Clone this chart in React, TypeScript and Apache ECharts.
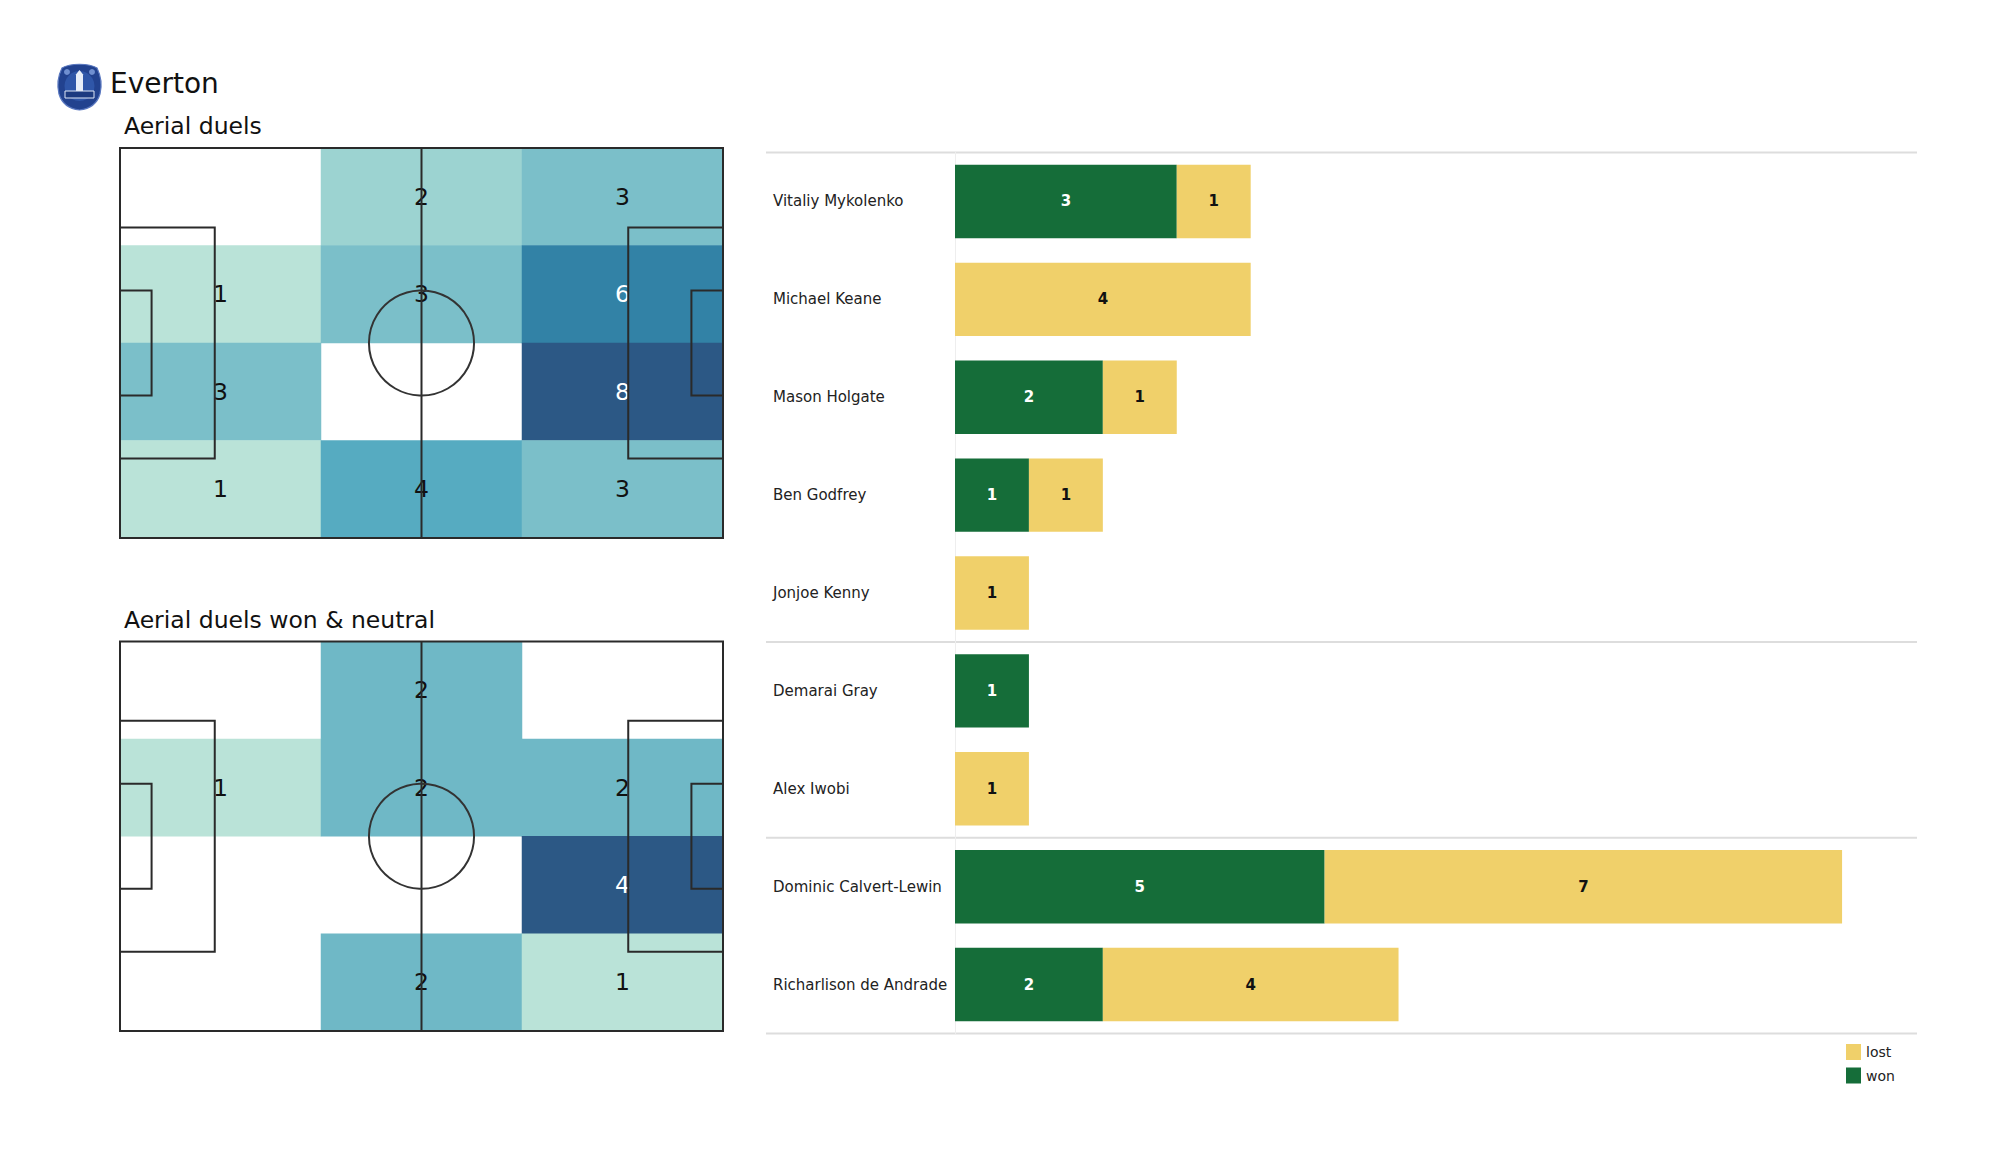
import React, { useEffect, useRef } from "react";
import * as echarts from "echarts";

// ---------- data ----------
const players = [
  "Vitaliy Mykolenko",
  "Michael Keane",
  "Mason Holgate",
  "Ben Godfrey",
  "Jonjoe Kenny",
  "Demarai Gray",
  "Alex Iwobi",
  "Dominic Calvert-Lewin",
  "Richarlison de Andrade",
];
const wonValues = [3, 0, 2, 1, 0, 1, 0, 5, 2];
const lostValues = [1, 4, 1, 1, 1, 0, 1, 7, 4];
const groupBreaks = [0, 5, 7, 9];

const zoneColumns = ["left", "centre", "right"];
const zoneRows = ["r1", "r2", "r3", "r4"];
// rows top -> bottom, columns left -> right
const aerialDuels = [
  [0, 2, 3],
  [1, 3, 6],
  [3, 0, 8],
  [1, 4, 3],
];
const aerialDuelsWonNeutral = [
  [0, 2, 0],
  [1, 2, 2],
  [0, 0, 4],
  [0, 2, 1],
];

const heatColors = ["#bae3d8", "#9cd3d1", "#7bbfc9", "#56abc1", "#4397b6", "#3282a6", "#2f6d95", "#2c5885"];
const FONT = '"DejaVu Sans", sans-serif';
const GREEN = "#156d39";
const YELLOW = "#f0d06a";

const crestPath =
  "M6 6 C 14 1 33 1 41 6 C 45 14 46 24 44 32 C 41 42 33 47 23.5 48 C 14 47 6 42 3 32 C 1 24 2 14 6 6 Z";

let crestRegistered = false;

function heatData(matrix: number[][]) {
  const max = Math.max(...matrix.flat());
  const out: any[] = [];
  matrix.forEach((row, r) =>
    row.forEach((v, c) => {
      if (v > 0) {
        const t = max > 1 ? (v - 1) / (max - 1) : 0;
        out.push({ value: [c, r, v], label: { color: t > 0.6 ? "#ffffff" : "#111111" } });
      }
    })
  );
  return { data: out, max };
}

function pitchRender(params: any, api: any) {
  const stroke = "#2a2a2a";
  const lw = 2;
  const rect = (x0: number, y0: number, x1: number, y1: number) => {
    const a = api.coord([x0, y0]);
    const b = api.coord([x1, y1]);
    return {
      type: "rect",
      shape: {
        x: Math.min(a[0], b[0]),
        y: Math.min(a[1], b[1]),
        width: Math.abs(b[0] - a[0]),
        height: Math.abs(b[1] - a[1]),
      },
      style: { fill: "none", stroke, lineWidth: lw },
    };
  };
  const h0 = api.coord([52.5, 0]);
  const h1 = api.coord([52.5, 68]);
  const c = api.coord([52.5, 34]);
  const r = api.size([9.15, 0])[0];
  return {
    type: "group",
    children: [
      rect(0, 13.84, 16.5, 54.16),
      rect(88.5, 13.84, 105, 54.16),
      rect(0, 24.84, 5.5, 43.16),
      rect(99.5, 24.84, 105, 43.16),
      {
        type: "line",
        shape: { x1: h0[0], y1: h0[1], x2: h1[0], y2: h1[1] },
        style: { stroke, lineWidth: lw },
      },
      {
        type: "circle",
        shape: { cx: c[0], cy: c[1], r },
        style: { fill: "none", stroke: "#333", lineWidth: lw },
      },
      rect(0, 0, 105, 68),
    ],
  };
}

export default function App() {
  const ref = useRef<HTMLDivElement>(null);

  useEffect(() => {
    if (!ref.current) return;
    if (!crestRegistered) {
      echarts.graphic.registerShape("crest", echarts.graphic.extendPath(crestPath, {}) as any);
      crestRegistered = true;
    }
    const chart = echarts.init(ref.current, undefined, { renderer: "svg" });

    const h1 = heatData(aerialDuels);
    const h2 = heatData(aerialDuelsWonNeutral);

    const pitchGrids = [
      { left: 120, top: 148, width: 603, height: 390 },
      { left: 120, top: 641.5, width: 603, height: 389.5 },
    ];

    const grids: any[] = [
      pitchGrids[0],
      pitchGrids[0],
      pitchGrids[1],
      pitchGrids[1],
      { left: 955, top: 152.5, width: 961, height: 881 },
      { left: 766, top: 152.5, width: 1151, height: 881 },
    ];

    const catX = (i: number) => ({ gridIndex: i, type: "category", data: zoneColumns, show: false });
    const catY = (i: number) => ({ gridIndex: i, type: "category", data: zoneRows, inverse: true, show: false });
    const pitchX = (i: number) => ({ gridIndex: i, type: "value", min: 0, max: 105, show: false });
    const pitchY = (i: number) => ({ gridIndex: i, type: "value", min: 0, max: 68, show: false });

    const heatSeries = (idx: number, d: any) => ({
      type: "heatmap",
      xAxisIndex: idx,
      yAxisIndex: idx,
      data: d.data,
      z: 1,
      label: {
        show: true,
        fontFamily: FONT,
        fontSize: 23.5,
        formatter: (p: any) => String(p.value[2]),
      },
      itemStyle: { borderWidth: 0 },
      emphasis: { disabled: true },
    });

    const option: any = {
      animation: false,
      backgroundColor: "#ffffff",
      textStyle: { fontFamily: FONT },
      grid: grids,
      xAxis: [
        catX(0),
        pitchX(1),
        catX(2),
        pitchX(3),
        { gridIndex: 4, type: "value", min: 0, max: 13, show: false },
        { gridIndex: 5, type: "value", min: 0, max: 1, show: false },
      ],
      yAxis: [
        catY(0),
        pitchY(1),
        catY(2),
        pitchY(3),
        {
          gridIndex: 4,
          type: "category",
          data: players,
          inverse: true,
          axisLine: { show: true, lineStyle: { color: "#eeeeee", width: 1 } },
          axisTick: { show: false },
          axisLabel: {
            align: "left",
            margin: 182,
            fontFamily: FONT,
            fontSize: 15,
            color: "#222222",
          },
        },
        { gridIndex: 5, type: "value", min: 0, max: 9, inverse: true, show: false },
      ],
      visualMap: [
        { show: false, seriesIndex: 0, dimension: 2, min: 1, max: h1.max, inRange: { color: heatColors } },
        { show: false, seriesIndex: 2, dimension: 2, min: 1, max: h2.max, inRange: { color: heatColors } },
      ],
      legend: {
        data: ["lost", "won"],
        orient: "vertical",
        left: 1841,
        top: 1039,
        itemWidth: 15,
        itemHeight: 16,
        itemGap: 7.5,
        icon: "rect",
        selectedMode: false,
        textStyle: { fontFamily: FONT, fontSize: 14, color: "#222222" },
      },
      series: [
        heatSeries(0, h1),
        {
          type: "custom",
          xAxisIndex: 1,
          yAxisIndex: 1,
          data: [[0, 0]],
          z: 5,
          silent: true,
          renderItem: pitchRender,
        },
        heatSeries(2, h2),
        {
          type: "custom",
          xAxisIndex: 3,
          yAxisIndex: 3,
          data: [[0, 0]],
          z: 5,
          silent: true,
          renderItem: pitchRender,
        },
        {
          name: "won",
          type: "bar",
          stack: "duels",
          xAxisIndex: 4,
          yAxisIndex: 4,
          data: wonValues,
          barCategoryGap: "25%",
          itemStyle: { color: GREEN },
          label: {
            show: true,
            position: "inside",
            color: "#ffffff",
            fontWeight: "bold",
            fontFamily: FONT,
            fontSize: 15,
            formatter: (p: any) => (p.value > 0 ? String(p.value) : ""),
          },
          emphasis: { disabled: true },
        },
        {
          name: "lost",
          type: "bar",
          stack: "duels",
          xAxisIndex: 4,
          yAxisIndex: 4,
          data: lostValues,
          barCategoryGap: "25%",
          itemStyle: { color: YELLOW },
          label: {
            show: true,
            position: "inside",
            color: "#111111",
            fontWeight: "bold",
            fontFamily: FONT,
            fontSize: 15,
            formatter: (p: any) => (p.value > 0 ? String(p.value) : ""),
          },
          emphasis: { disabled: true },
        },
        {
          type: "custom",
          xAxisIndex: 5,
          yAxisIndex: 5,
          data: groupBreaks.map((v) => [0, v]),
          silent: true,
          z: 0,
          renderItem: (params: any, api: any) => {
            const v = api.value(1);
            const a = api.coord([0, v]);
            const b = api.coord([1, v]);
            return {
              type: "line",
              shape: { x1: a[0], y1: a[1], x2: b[0], y2: b[1] },
              style: { stroke: "#dddddd", lineWidth: 2 },
            };
          },
        },
      ],
      graphic: [
        {
          type: "group",
          x: 56,
          y: 62,
          children: [
            {
              type: "crest",
              x: 0,
              y: 0,
              style: { fill: "#22428f", stroke: "#5a78c0", lineWidth: 1.2 },
            },
            {
              type: "circle",
              shape: { cx: 23.5, cy: 24, r: 15 },
              style: { fill: "#2f56a8" },
            },
            {
              type: "rect",
              shape: { x: 20, y: 13, width: 7, height: 16 },
              style: { fill: "#e8eef8" },
            },
            {
              type: "polygon",
              shape: { points: [[19.5, 13], [23.5, 8], [27.5, 13]] },
              style: { fill: "#e8eef8" },
            },
            {
              type: "rect",
              shape: { x: 9, y: 29, width: 29, height: 7 },
              style: { fill: "#1c3a80", stroke: "#dfe7f6", lineWidth: 1 },
            },
            {
              type: "circle",
              shape: { cx: 11, cy: 10, r: 3 },
              style: { fill: "#6f8fd0" },
            },
            {
              type: "circle",
              shape: { cx: 36, cy: 10, r: 3 },
              style: { fill: "#6f8fd0" },
            },
          ],
        },
        {
          type: "text",
          x: 110,
          y: 83,
          style: {
            text: "Everton",
            fontFamily: FONT,
            fontSize: 28,
            fill: "#111111",
            verticalAlign: "middle",
          },
        },
        {
          type: "text",
          x: 124,
          y: 126,
          style: {
            text: "Aerial duels",
            fontFamily: FONT,
            fontSize: 23.5,
            fill: "#111111",
            verticalAlign: "middle",
          },
        },
        {
          type: "text",
          x: 124,
          y: 620,
          style: {
            text: "Aerial duels won & neutral",
            fontFamily: FONT,
            fontSize: 23.5,
            fill: "#111111",
            verticalAlign: "middle",
          },
        },
      ],
    };

    chart.setOption(option);
    return () => chart.dispose();
  }, []);

  return (
    <div
      ref={ref}
      style={{ position: "fixed", left: 0, top: 0, width: 2000, height: 1175, background: "#ffffff" }}
    />
  );
}
